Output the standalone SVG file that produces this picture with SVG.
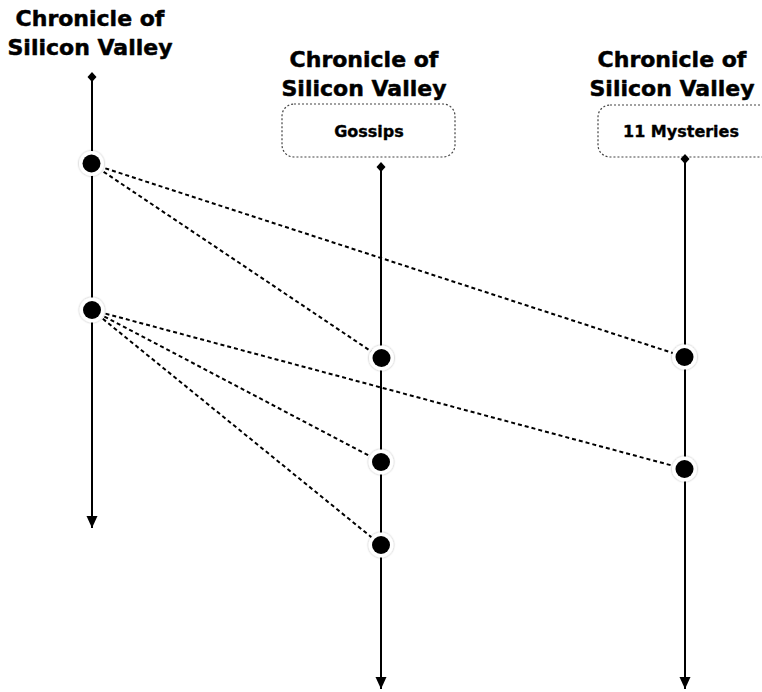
<svg xmlns="http://www.w3.org/2000/svg" width="762" height="692" viewBox="0 0 762 692">
  <defs>
    <marker id="diamond" markerWidth="12" markerHeight="12" refX="6" refY="6" orient="0" markerUnits="userSpaceOnUse">
      <path d="M6 1 L10.5 6 L6 11 L1.5 6 Z" fill="#000"/>
    </marker>
    <marker id="arrow" markerWidth="14" markerHeight="14" refX="7" refY="13" orient="0" markerUnits="userSpaceOnUse">
      <path d="M1.5 1 L12.5 1 L7 13 Z" fill="#000"/>
    </marker>
    <filter id="halo" x="-50%" y="-50%" width="200%" height="200%">
      <feGaussianBlur in="SourceAlpha" stdDeviation="1.2"/>
      <feComponentTransfer><feFuncA type="linear" slope="0.35"/></feComponentTransfer>
      <feMerge><feMergeNode/><feMergeNode in="SourceGraphic"/></feMerge>
    </filter>
  </defs>
  <style>
    .title { font-family: "DejaVu Sans", sans-serif; font-weight: bold; font-size: 22px; fill: #000; stroke: #000; stroke-width: 0.5; stroke-linejoin: round; text-anchor: middle; }
    .label { font-family: "DejaVu Sans", sans-serif; font-weight: bold; font-size: 16px; fill: #000; stroke: #000; stroke-width: 0.35; stroke-linejoin: round; text-anchor: middle; }
    .box { fill: #fff; stroke: #444; stroke-width: 1.2; stroke-dasharray: 2 2; }
    .lifeline { stroke: #000; stroke-width: 2; fill: none; marker-start: url(#diamond); marker-end: url(#arrow); }
    .msg { stroke: #000; stroke-width: 2; stroke-dasharray: 4 3; fill: none; }
    .ring { fill: #fff; filter: url(#halo); }
    .dot { fill: #000; }
  </style>
  <rect width="762" height="692" fill="#fff"/>

  <!-- lifelines -->
  <g id="lane-left">
    <text class="title" x="90" y="26">Chronicle of</text>
    <text class="title" x="90" y="55">Silicon Valley</text>
    <line class="lifeline" x1="92" y1="77" x2="92" y2="528"/>
  </g>
  <g id="lane-gossips">
    <text class="title" x="364" y="67">Chronicle of</text>
    <text class="title" x="364" y="96">Silicon Valley</text>
    <rect class="box" x="282" y="104" width="173" height="53" rx="12"/>
    <text class="label" x="369" y="137">Gossips</text>
    <line class="lifeline" x1="381" y1="167" x2="381" y2="689"/>
  </g>
  <g id="lane-mysteries">
    <text class="title" x="672" y="67">Chronicle of</text>
    <text class="title" x="672" y="96">Silicon Valley</text>
    <rect class="box" x="598" y="105" width="180" height="52" rx="12"/>
    <text class="label" x="681" y="137">11 Mysteries</text>
    <line class="lifeline" x1="685" y1="159" x2="685" y2="689"/>
  </g>

  <!-- connectors -->
  <g id="connectors">
    <line class="msg" x1="92" y1="164" x2="381" y2="358"/>
    <line class="msg" x1="92" y1="164" x2="685" y2="357"/>
    <line class="msg" x1="92" y1="310" x2="685" y2="469"/>
    <line class="msg" x1="92" y1="310" x2="381" y2="462"/>
    <line class="msg" x1="92" y1="310" x2="381" y2="545"/>
  </g>

  <!-- event points -->
  <g id="event-1"><circle class="ring" cx="91.5" cy="163.5" r="12.5"/><circle class="dot" cx="91.5" cy="163.5" r="9"/></g>
  <g id="event-2"><circle class="ring" cx="92" cy="310" r="12.5"/><circle class="dot" cx="92" cy="310" r="9"/></g>
  <g id="event-3"><circle class="ring" cx="381.5" cy="358" r="12.5"/><circle class="dot" cx="381.5" cy="358" r="9"/></g>
  <g id="event-4"><circle class="ring" cx="381" cy="462" r="12.5"/><circle class="dot" cx="381" cy="462" r="9"/></g>
  <g id="event-5"><circle class="ring" cx="381" cy="545" r="12.5"/><circle class="dot" cx="381" cy="545" r="9"/></g>
  <g id="event-6"><circle class="ring" cx="684.5" cy="357" r="12.5"/><circle class="dot" cx="684.5" cy="357" r="9"/></g>
  <g id="event-7"><circle class="ring" cx="684.5" cy="469" r="12.5"/><circle class="dot" cx="684.5" cy="469" r="9"/></g>
</svg>
